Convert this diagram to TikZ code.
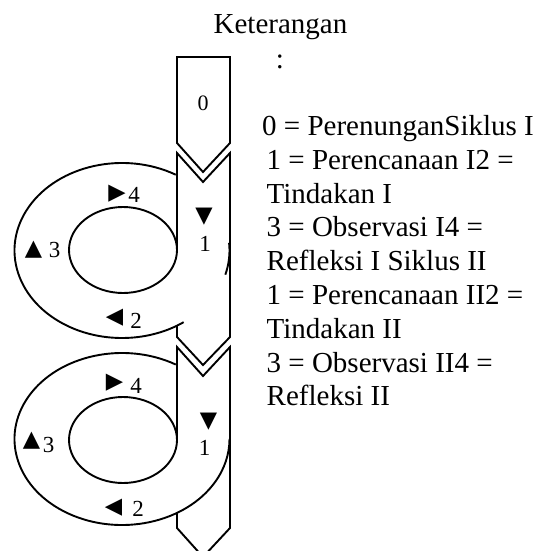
\documentclass[tikz,border=0pt]{standalone}
\usepackage{fontspec}
\setmainfont{Liberation Serif}
\newfontfamily\symfont{DejaVu Sans}
\begin{document}
\begin{tikzpicture}[x=1pt,y=-1pt,
  leg/.style={anchor=base west, inner sep=0pt, font=\fontsize{29}{34}\selectfont},
  ttl/.style={anchor=base, inner sep=0pt, font=\fontsize{29}{34}\selectfont},
  num/.style={anchor=base, inner sep=0pt, font=\fontsize{23}{27}\selectfont},
  tri/.style={anchor=center, inner sep=0pt, font=\symfont\fontsize{22.5}{26}\selectfont},
  outline/.style={draw=black, line width=1.9pt, line join=miter}]
\useasboundingbox (0,0) rectangle (549,551);

% centres
\coordinate (o1) at (122,250.5);
\coordinate (i1) at (123,250);
\coordinate (o2) at (122,439);
\coordinate (i2) at (123,440);

% block 0
\draw[outline] (177,57) -- (230,57) -- (230,143) -- (203,172) -- (177,143) -- cycle;
\node[num, font=\fontsize{22}{26}\selectfont] (b0) at (203,110) {0};

% cycle 1
\draw[outline] (i1) ellipse[x radius=54, y radius=43];
\draw[outline] ([shift={(-60:107.5 and 87.5)}]o1) arc[start angle=-60, end angle=-305, x radius=107.5, y radius=87.5];
\draw[outline] ([shift={(-5:107.5 and 87.5)}]o1) arc[start angle=-5, end angle=16, x radius=107.5, y radius=87.5];
\draw[outline] (177,250) -- (177,153) -- (203,182) -- (230,153) -- (230,337) -- (203,365) -- (177,337) -- (177,326);

% cycle 2
\draw[outline] (i2) ellipse[x radius=54, y radius=43];
\draw[outline] ([shift={(-60:107.5 and 86)}]o2) arc[start angle=-60, end angle=-360, x radius=107.5, y radius=86];
\draw[outline] (177,440) -- (177,347) -- (203,376) -- (230,347) -- (230,528) -- (203,557) -- (177,528) -- (177,513);

% cycle 1 labels
\node[tri] (t4a) at (117,193.5) {▶};
\node[num] (n4a) at (134,202) {4};
\node[tri] (t3a) at (33.5,249.5) {▲};
\node[num] (n3a) at (54.5,257) {3};
\node[tri] (t1a) at (204,216.5) {▼};
\node[num] (n1a) at (205,251) {1};
\node[tri] (t2a) at (114.5,318) {◀};
\node[num] (n2a) at (136,328) {2};

% cycle 2 labels
\node[tri] (t4b) at (114.5,382.5) {▶};
\node[num] (n4b) at (136,393) {4};
\node[tri] (t3b) at (31.5,441) {▲};
\node[num] (n3b) at (48.5,452) {3};
\node[tri] (t1b) at (208.5,421.5) {▼};
\node[num] (n1b) at (204.5,455) {1};
\node[tri] (t2b) at (113.5,507.5) {◀};
\node[num] (n2b) at (138,516) {2};

% legend
\node[ttl] (ket) at (280.5,34) {Keterangan};
\node[ttl] (colon) at (280,68) {:};
\node[leg] (l1) at (262,135.4) {0 = PerenunganSiklus I};
\node[leg] (l2) at (266.5,169.2) {1 = Perencanaan I2 =};
\node[leg] (l3) at (266.5,203) {Tindakan I};
\node[leg] (l4) at (266.5,236.8) {3 = Observasi I4 =};
\node[leg] (l5) at (266.5,270.6) {Refleksi I Siklus II};
\node[leg] (l6) at (266.5,304.4) {1 = Perencanaan II2 =};
\node[leg] (l7) at (266.5,338.2) {Tindakan II};
\node[leg] (l8) at (266.5,372) {3 = Observasi II4 =};
\node[leg] (l9) at (266.5,405.8) {Refleksi II};
\end{tikzpicture}
\end{document}
